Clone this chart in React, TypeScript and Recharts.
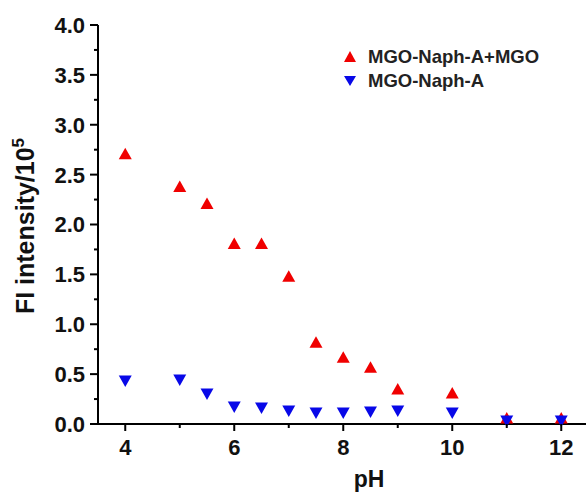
import React from "react";
import { ScatterChart, Scatter, XAxis, YAxis, Legend } from "recharts";

// pH values and fluorescence intensity (x10^5)
const phValues = [4, 5, 5.5, 6, 6.5, 7, 7.5, 8, 8.5, 9, 10, 11, 12];
const fiMixed = [2.71, 2.38, 2.21, 1.81, 1.81, 1.48, 0.82, 0.67, 0.57, 0.35, 0.31, 0.06, 0.06];
const fiNaph = [0.43, 0.44, 0.3, 0.17, 0.16, 0.13, 0.11, 0.11, 0.12, 0.13, 0.11, 0.03, 0.03];

const xTicks = [4, 5, 6, 7, 8, 9, 10, 11, 12];
const xLabeled = [4, 6, 8, 10, 12];
const yTicks = [0, 0.25, 0.5, 0.75, 1, 1.25, 1.5, 1.75, 2, 2.25, 2.5, 2.75, 3, 3.25, 3.5, 3.75, 4];

const RED = "#f00000";
const BLUE = "#0808e8";
const FONT = "'Liberation Sans', Arial, sans-serif";

const mixedData = phValues.map((ph, i) => ({ ph, v: fiMixed[i] }));
const naphData = phValues.map((ph, i) => ({ ph, v: fiNaph[i] }));

const UpTri = (p: any) => (
  <polygon
    points={`${p.cx},${p.cy - 6} ${p.cx - 6.5},${p.cy + 5.5} ${p.cx + 6.5},${p.cy + 5.5}`}
    fill={RED}
  />
);

const DownTri = (p: any) => (
  <polygon
    points={`${p.cx - 6.5},${p.cy - 5.5} ${p.cx + 6.5},${p.cy - 5.5} ${p.cx},${p.cy + 6}`}
    fill={BLUE}
  />
);

const XTick = (p: any) => {
  const v = p.payload.value;
  const major = xLabeled.includes(v);
  return (
    <g>
      <line x1={p.x} x2={p.x} y1={p.y} y2={p.y + (major ? 7 : 4)} stroke="#000" strokeWidth={2} />
      {major && (
        <text x={p.x} y={p.y + 31} textAnchor="middle" fontFamily={FONT} fontWeight="bold" fontSize={22} fill="#111">
          {v}
        </text>
      )}
    </g>
  );
};

const YTick = (p: any) => {
  const v = p.payload.value;
  const major = Math.abs(v * 2 - Math.round(v * 2)) < 1e-6;
  return (
    <g>
      <line x1={p.x - (major ? 8 : 4)} x2={p.x} y1={p.y} y2={p.y} stroke="#000" strokeWidth={2} />
      {major && (
        <text x={p.x - 13} y={p.y} dy="0.36em" textAnchor="end" fontFamily={FONT} fontWeight="bold" fontSize={22} fill="#111">
          {v.toFixed(1)}
        </text>
      )}
    </g>
  );
};

const LegendBox = () => (
  <div style={{ fontFamily: FONT, fontWeight: "bold", fontSize: 18.5, color: "#222", lineHeight: "24px" }}>
    <div style={{ display: "flex", alignItems: "center" }}>
      <svg width={26} height={24}>
        <polygon points="8,6 2,17 14,17" fill={RED} />
      </svg>
      <span>MGO-Naph-A+MGO</span>
    </div>
    <div style={{ display: "flex", alignItems: "center" }}>
      <svg width={26} height={24}>
        <polygon points="2,7 14,7 8,17" fill={BLUE} />
      </svg>
      <span>MGO-Naph-A</span>
    </div>
  </div>
);

export default function App() {
  return (
    <div style={{ position: "absolute", left: 0, top: 0, width: 586, height: 495, overflow: "hidden", background: "#fff" }}>
      <ScatterChart width={592} height={495} margin={{ top: 25, right: 3.5, bottom: 21, left: 38 }}>
        <XAxis
          dataKey="ph"
          type="number"
          domain={[3.5, 12.5]}
          ticks={xTicks}
          interval={0}
          tick={<XTick />}
          tickLine={false}
          tickSize={0}
          tickMargin={0}
          height={50}
          axisLine={{ stroke: "#000", strokeWidth: 2 }}
          label={() => (
            <text x={369} y={487} textAnchor="middle" fontFamily={FONT} fontWeight="bold" fontSize={23} fill="#111">
              pH
            </text>
          )}
        />
        <XAxis
          xAxisId="top"
          orientation="top"
          type="number"
          domain={[3.5, 12.5]}
          height={0}
          tick={false}
          tickLine={false}
          axisLine={{ stroke: "#000", strokeWidth: 2 }}
        />
        <YAxis
          dataKey="v"
          type="number"
          domain={[0, 4]}
          ticks={yTicks}
          interval={0}
          tick={<YTick />}
          tickLine={false}
          tickSize={0}
          tickMargin={0}
          width={60}
          axisLine={{ stroke: "#000", strokeWidth: 2 }}
          label={() => (
            <text
              transform="translate(34,226) rotate(-90)"
              textAnchor="middle"
              fontFamily={FONT}
              fontWeight="bold"
              fontSize={25}
              fill="#111"
            >
              FI intensity/10
              <tspan dy={-10} fontSize={17}>5</tspan>
            </text>
          )}
        />
        <Legend
          layout="vertical"
          align="center"
          verticalAlign="middle"
          content={<LegendBox />}
          wrapperStyle={{ position: "absolute", left: 342, top: 45, width: 240 }}
        />
        <Scatter name="MGO-Naph-A+MGO" data={mixedData} shape={<UpTri />} isAnimationActive={false} />
        <Scatter name="MGO-Naph-A" data={naphData} shape={<DownTri />} isAnimationActive={false} />
      </ScatterChart>
    </div>
  );
}
